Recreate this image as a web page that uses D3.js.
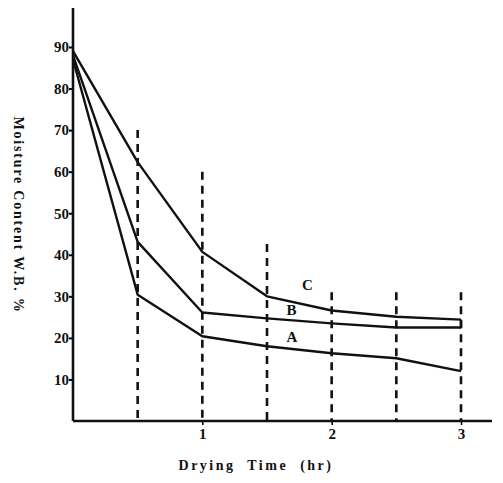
<!DOCTYPE html>
<html>
<head>
<meta charset="utf-8">
<script src="https://cdn.jsdelivr.net/npm/d3@7"></script>
<style>
  body { margin: 0; background: #fff; }
  text { font-family: "Liberation Serif", "DejaVu Serif", serif; font-weight: bold; fill: #111; }
</style>
</head>
<body>
<div id="chart"></div>
<script>
// data
const times = [0, 0.5, 1, 1.5, 2, 2.5, 3];
const curveA = [87, 30.4, 20.4, 18, 16.3, 15.1, 12];
const curveB = [88, 43.1, 26.1, 24.7, 23.5, 22.5, 22.5];
const curveC = [89, 62.3, 40.7, 30, 26.6, 25.1, 24.4];
const seriesNames = ["A", "B", "C"];
const dropTops = [70, 60, 42.6, 31, 31, 31]; // top of the dashed guides at 0.5..3 hr
const yTicks = [10, 20, 30, 40, 50, 60, 70, 80, 90];
const xTicks = [1, 2, 3];

const width = 503, height = 483;

const svg = d3.select("#chart").append("svg")
    .attr("width", width)
    .attr("height", height);

const x = d3.scaleLinear().domain([0, 3]).range([73, 461]);
const y = d3.scaleLinear().domain([0, 90]).range([421, 47]);

// dashed guides
svg.append("g").selectAll("line")
    .data(dropTops)
    .join("line")
    .attr("x1", (d, i) => x(times[i + 1]))
    .attr("x2", (d, i) => x(times[i + 1]))
    .attr("y1", d => y(d))
    .attr("y2", y(0))
    .attr("stroke", "#111")
    .attr("stroke-width", 2.6)
    .attr("stroke-dasharray", "8,6");

// axes
const yAxis = d3.axisRight(y).tickValues(yTicks).tickSize(3).tickPadding(-20)
    .tickFormat(d3.format("d"));
const xAxis = d3.axisBottom(x).tickValues(xTicks).tickSize(4).tickPadding(3)
    .tickFormat(d3.format("d"));

svg.append("g")
    .attr("transform", `translate(${x(0) - 4},0)`)
    .attr("font-size", 15)
    .call(yAxis)
    .call(g => g.select(".domain").remove())
    .call(g => g.selectAll("text").attr("text-anchor", "end").attr("x", 0).style("font-size", "15px"))
    .call(g => g.selectAll("line").attr("stroke-width", 2));

svg.append("g")
    .attr("transform", `translate(0,${y(0)})`)
    .attr("font-size", 15)
    .call(xAxis)
    .call(g => g.select(".domain").remove())
    .call(g => g.selectAll("text").style("font-size", "15px"))
    .call(g => g.selectAll("line").attr("stroke-width", 1.5));

svg.append("line")
    .attr("x1", x(0)).attr("x2", x(0))
    .attr("y1", 8).attr("y2", y(0))
    .attr("stroke", "#111").attr("stroke-width", 2.6);
svg.append("line")
    .attr("x1", x(0)).attr("x2", 492)
    .attr("y1", y(0)).attr("y2", y(0))
    .attr("stroke", "#111").attr("stroke-width", 2.6);

// curves
const line = d3.line()
    .x((d, i) => x(times[i]))
    .y(d => y(d));

svg.append("g").selectAll("path")
    .data([curveA, curveB, curveC])
    .join("path")
    .attr("d", line)
    .attr("fill", "none")
    .attr("stroke", "#111")
    .attr("stroke-width", 2.4)
    .attr("stroke-linejoin", "round");

// close the B/C ends as in the original
svg.append("line")
    .attr("x1", x(3)).attr("x2", x(3))
    .attr("y1", y(curveC[6])).attr("y2", y(curveB[6]))
    .attr("stroke", "#111").attr("stroke-width", 2.4);

// curve labels
const labelPos = [[1.65, 18.9], [1.65, 25.6], [1.77, 31.5]];
svg.append("g").selectAll("text")
    .data(seriesNames)
    .join("text")
    .attr("x", (d, i) => x(labelPos[i][0]))
    .attr("y", (d, i) => y(labelPos[i][1]))
    .style("font-size", "15px")
    .text(d => d);

// axis titles
svg.append("text")
    .attr("transform", "translate(14,215) rotate(90)")
    .attr("text-anchor", "middle")
    .style("font-size", "14px")
    .style("letter-spacing", "1.8px")
    .text("Moisture Content W.B. %");

svg.append("text")
    .attr("x", 256)
    .attr("y", 470)
    .attr("text-anchor", "middle")
    .style("font-size", "14px")
    .style("letter-spacing", "2.5px")
    .style("word-spacing", "6px")
    .text("Drying Time (hr)");
</script>
</body>
</html>
